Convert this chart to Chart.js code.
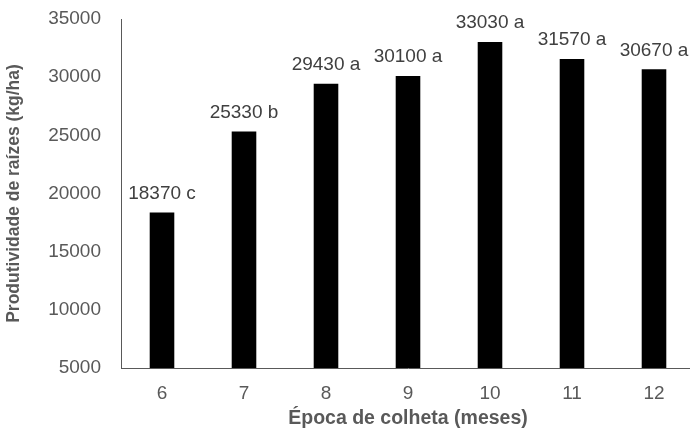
<!DOCTYPE html>
<html>
<head>
<meta charset="utf-8">
<script src="https://cdn.jsdelivr.net/npm/chart.js@4"></script>
<style>
  html, body { margin: 0; padding: 0; background: #fff; overflow: hidden; }
  #wrap { width: 698px; height: 430px; }
</style>
</head>
<body>
<div id="wrap"><canvas id="chart"></canvas></div>
<script>
const meses = ["6", "7", "8", "9", "10", "11", "12"];
const produtividade = [18370, 25330, 29430, 30100, 33030, 31570, 30670];
const letras = ["c", "b", "a", "a", "a", "a", "a"];

const gray = "#595959";
const fam = "'Liberation Sans', Arial, sans-serif";
Chart.defaults.font.family = fam;
Chart.defaults.color = gray;

// labels above each bar
const barLabels = {
  id: "barLabels",
  afterDatasetsDraw(chart) {
    const ctx = chart.ctx;
    const meta = chart.getDatasetMeta(0);
    ctx.save();
    ctx.font = "19px " + fam;
    ctx.fillStyle = "#404040";
    ctx.textAlign = "center";
    ctx.textBaseline = "middle";
    meta.data.forEach((bar, i) => {
      ctx.fillText(produtividade[i] + " " + letras[i], bar.x, bar.y - 19);
    });
    ctx.restore();
  },
};

new Chart(document.getElementById("chart"), {
  type: "bar",
  data: {
    labels: meses,
    datasets: [
      {
        data: produtividade,
        backgroundColor: "#000",
        categoryPercentage: 1,
        barPercentage: 0.3,
      },
    ],
  },
  options: {
    responsive: true,
    maintainAspectRatio: false,
    animation: false,
    layout: { padding: { top: 19, right: 3, bottom: 0, left: 0 } },
    plugins: {
      legend: { display: false },
      tooltip: { enabled: false },
    },
    scales: {
      x: {
        grid: { display: false },
        border: { color: gray, width: 1 },
        ticks: { font: { size: 19 }, color: gray, padding: 6 },
        title: {
          display: true,
          text: "Época de colheta (meses)",
          font: { size: 19.5, weight: "bold" },
          color: gray,
          padding: { top: 0, bottom: 0 },
        },
        afterFit: (s) => { s.height = 62; },
      },
      y: {
        min: 5000,
        max: 35000,
        grid: { display: false },
        border: { color: gray, width: 1 },
        ticks: {
          stepSize: 5000,
          font: { size: 19 },
          color: gray,
          padding: 12,
          callback: (v) => String(v),
        },
        title: {
          display: true,
          text: "Produtividade de raízes (kg/ha)",
          font: { size: 17.5, weight: "bold" },
          color: gray,
          padding: { top: 4, bottom: 0 },
        },
        afterFit: (s) => {
          s.width = 121;
          s.paddingTop = 0;
          s.paddingBottom = 0;
        },
      },
    },
  },
  plugins: [barLabels],
});
</script>
</body>
</html>
